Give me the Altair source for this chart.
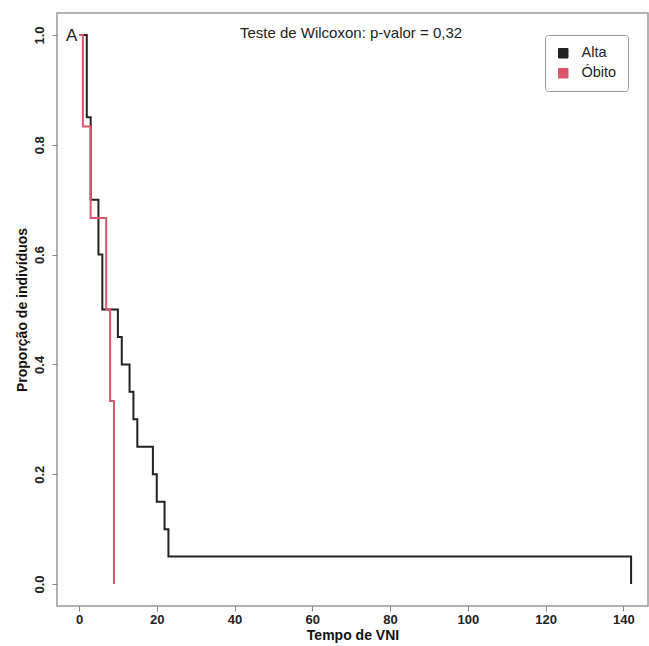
import altair as alt
import pandas as pd

# Kaplan-Meier estimates of time on non-invasive ventilation (VNI), by outcome
groups = ["Alta", "Óbito"]
colors = ["#222222", "#DF536B"]

alta_time = [0, 2, 3, 5, 6, 10, 11, 13, 14, 15, 19, 20, 22, 23, 142]
alta_surv = [1.0, 0.85, 0.70, 0.60, 0.50, 0.45, 0.40, 0.35, 0.30, 0.25, 0.20, 0.15, 0.10, 0.05, 0.0]

obito_time = [0, 1, 3, 7, 8, 9]
obito_surv = [1.0, 5 / 6, 4 / 6, 3 / 6, 2 / 6, 0.0]

x_ticks = [0, 20, 40, 60, 80, 100, 120, 140]
y_ticks = [0.0, 0.2, 0.4, 0.6, 0.8, 1.0]

title_text = "Teste de Wilcoxon: p-valor = 0,32"
panel_letter = "A"

frames = []
for g, ts, ss in [("Alta", alta_time, alta_surv), ("Óbito", obito_time, obito_surv)]:
    frames.append(pd.DataFrame({"tempo": ts, "prop": ss, "grupo": g, "ordem": range(len(ts))}))
df = pd.concat(frames, ignore_index=True)

FONT = "Liberation Sans"

x_enc = alt.X(
    "tempo:Q",
    scale=alt.Scale(domain=[-5.66, 146.35], nice=False, zero=False),
    axis=alt.Axis(values=x_ticks, title="Tempo de VNI", format="d"),
)
y_enc = alt.Y(
    "prop:Q",
    scale=alt.Scale(domain=[-0.04, 1.04], nice=False, zero=False),
    axis=alt.Axis(values=y_ticks, title="Proporção de indivíduos", format=".1f",
                  labelAngle=-90, labelAlign="center", labelBaseline="bottom"),
)

lines = alt.Chart(df).mark_line(interpolate="step-after", strokeWidth=2).encode(
    x=x_enc,
    y=y_enc,
    stroke=alt.Stroke("grupo:N", scale=alt.Scale(domain=groups, range=colors), legend=None),
    order=alt.Order("grupo:N", sort="ascending"),
    detail="grupo:N",
)

# Empty point layer that only supplies the filled-square legend
legend_layer = alt.Chart(df).mark_point(shape="square", filled=True, opacity=1).encode(
    x="tempo:Q",
    y="prop:Q",
    fill=alt.Fill(
        "grupo:N",
        scale=alt.Scale(domain=groups, range=colors),
        legend=alt.Legend(
            title=None, orient="none", legendX=488, legendY=22,
            symbolType="square", symbolSize=90, symbolStrokeColor="#111111",
            symbolStrokeWidth=1, labelFontSize=14.5, labelFont=FONT, labelColor="#222222",
            padding=11, rowPadding=5, labelOffset=11, strokeColor="#9a9a9a",
            fillColor="white", cornerRadius=3, symbolOpacity=1,
        ),
    ),
).transform_filter("false")

title_mark = alt.Chart(pd.DataFrame({"t": [title_text]})).mark_text(
    font=FONT, fontSize=15, color="#222222", align="center", baseline="middle"
).encode(x=alt.value(294), y=alt.value(20), text="t:N")

letter_mark = alt.Chart(pd.DataFrame({"t": [panel_letter]})).mark_text(
    font=FONT, fontSize=17, color="#222222", align="left", baseline="middle"
).encode(x=alt.value(9), y=alt.value(23), text="t:N")

chart = alt.layer(legend_layer, lines, title_mark, letter_mark).properties(
    width=591,
    height=593,
    autosize=alt.AutoSizeParams(type="none"),
    padding={"left": 57, "top": 13, "right": 1, "bottom": 40},
    background="white",
).configure_view(
    stroke="#999999", strokeWidth=1.5
).configure_axis(
    grid=False, domain=False, tickColor="#888888", tickSize=5, tickWidth=1,
    labelFont=FONT, labelFontSize=13, labelFontWeight="bold", labelColor="#222222",
    titleFont=FONT, titleFontSize=14, titleFontWeight="bold", titleColor="#111111",
).configure_axisX(
    labelPadding=2, titlePadding=2,
).configure_axisY(
    labelPadding=6, titlePadding=4,
)

chart.save("out.html", embed_options={"renderer": "svg", "actions": False})
